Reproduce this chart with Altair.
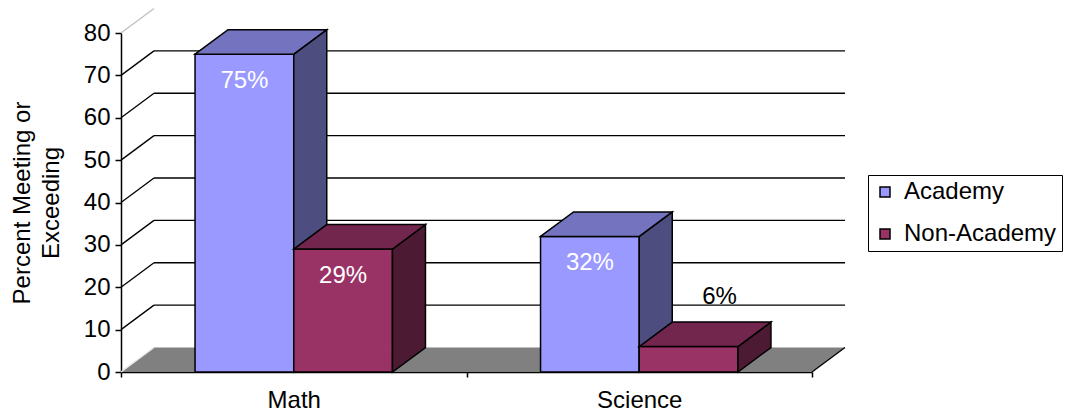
import json
import altair as alt
import pandas as pd

# --- chart values -----------------------------------------------------------
subjects = ["Math", "Science"]
groups = ["Academy", "Non-Academy"]
academy = [75, 32]
non_academy = [29, 6]
y_ticks = [0, 10, 20, 30, 40, 50, 60, 70, 80]

front_colors = ["#9999FF", "#993366"]
top_colors = ["#7373BF", "#73264D"]
side_colors = ["#4D4D80", "#4D1A33"]

FONT = "Liberation Sans"

# --- geometry of the pseudo-3D box ----------------------------------------
W, H = 691, 339           # front plot area in pixels
Y_MAX = 80
PX_X = W / len(subjects)  # pixels per category unit
PX_Y = H / Y_MAX          # pixels per percent
DX = 33 / PX_X            # depth offset, x units
DY = 24.5 / PX_Y          # depth offset, y units
BAR_W = 1 / 3.5           # two bars + 150% gap per category
GAP = 1.5 * BAR_W

series_values = {"Academy": academy, "Non-Academy": non_academy}

x_scale = alt.Scale(domain=[0, len(subjects)], nice=False, zero=False)
y_scale = alt.Scale(domain=[0, Y_MAX], nice=False)

x_axis = alt.Axis(
    values=list(range(len(subjects) + 1)),
    labelExpr=f"datum.value < {len(subjects)} ? {json.dumps(subjects)}[datum.value] : ''",
    labelOffset=PX_X / 2,
    labelFlush=False,
    labelOverlap=False,
    labelPadding=11,
    tickSize=5,
    title=None,
    grid=False,
)
y_axis = alt.Axis(
    values=y_ticks,
    tickSize=6,
    labelPadding=5,
    grid=False,
    title=["Percent Meeting or", "Exceeding"],
    titleAngle=-90,
    titleAlign="center",
    titleBaseline="bottom",
    titleX=-87,
    titleY=H / 2,
    titleLineHeight=29,
)


def X(f):
    return alt.X(f"{f}:Q", scale=x_scale, axis=x_axis)


def Y(f):
    return alt.Y(f"{f}:Q", scale=y_scale, axis=y_axis, stack=None)


# --- floor and walls --------------------------------------------------------
n = len(subjects)
floor = pd.DataFrame({
    "x": [0, DX, n, n + DX],
    "y": [0, DY, DY, DY],
    "y2": [0, 0, 0, DY],
})
floor_layer = alt.Chart(floor).mark_area(color="#808080", interpolate="linear").encode(
    x=X("x"), y=Y("y"), y2="y2"
)

back_lines = pd.DataFrame({
    "x": [DX] * 7, "x2": [n + DX] * 7,
    "y": [v + DY for v in y_ticks[1:-1]],
})
back_layer = alt.Chart(back_lines).mark_rule(color="black", strokeWidth=1.3).encode(
    x=X("x"), x2="x2", y=Y("y")
)

diag = pd.DataFrame({
    "x": [0] * len(y_ticks), "x2": [DX] * len(y_ticks),
    "y": y_ticks, "y2": [v + DY for v in y_ticks],
    "c": ["#e6e6e6"] + ["black"] * 7 + ["#c0c0c0"],
})
diag = pd.concat([diag, pd.DataFrame({"x": [n], "x2": [n + DX], "y": [0], "y2": [DY], "c": ["black"]})])
diag_layer = alt.Chart(diag).mark_rule(strokeWidth=1.3).encode(
    x=X("x"), x2="x2", y=Y("y"), y2="y2", stroke=alt.Stroke("c:N", scale=None)
)

# --- bars: front faces plus side/top faces ----------------------------------
bar_layers = []
label_rows = []
for si, grp in enumerate(groups):
    fronts, faces = [], []
    for ci, subj in enumerate(subjects):
        v = series_values[grp][ci]
        x0 = ci + GAP / 2 + si * BAR_W
        x1 = x0 + BAR_W
        fronts.append({"x0": x0, "x1": x1, "v": v, "group": grp})
        fid = f"{grp}-{subj}"
        # right side face
        faces += [
            {"face": fid + "-s", "x": x1, "y": v, "y2": 0, "fill": side_colors[si]},
            {"face": fid + "-s", "x": x1 + DX, "y": v + DY, "y2": DY, "fill": side_colors[si]},
        ]
        # top face
        faces += [
            {"face": fid + "-t", "x": x0, "y": v, "y2": v, "fill": top_colors[si]},
            {"face": fid + "-t", "x": x0 + DX, "y": v + DY, "y2": v, "fill": top_colors[si]},
            {"face": fid + "-t", "x": x1, "y": v + DY, "y2": v, "fill": top_colors[si]},
            {"face": fid + "-t", "x": x1 + DX, "y": v + DY, "y2": v + DY, "fill": top_colors[si]},
        ]
        label_rows.append({"x": (x0 + x1) / 2, "v": v, "label": f"{v}%", "inside": v >= 15})

    front_layer = alt.Chart(pd.DataFrame(fronts)).mark_rect(
        stroke="black", strokeWidth=1.5
    ).encode(
        x=X("x0"), x2="x1", y=Y("v"), y2=alt.datum(0),
        color=alt.Color(
            "group:N",
            scale=alt.Scale(domain=groups, range=front_colors),
            legend=alt.Legend(
                title=None, orient="none", legendX=747, legendY=142,
                symbolType="square", symbolSize=100, symbolStrokeColor="black",
                symbolStrokeWidth=1.5, symbolOpacity=1,
                labelFontSize=24, labelFont=FONT, labelColor="black", labelOffset=7,
                rowPadding=18, padding=5, strokeColor="black", fillColor="white",
            ),
        ),
    )
    face_layer = alt.Chart(pd.DataFrame(faces)).mark_area(
        stroke="black", strokeWidth=1.5, interpolate="linear", opacity=1
    ).encode(
        x=X("x"), y=Y("y"), y2="y2", detail="face:N",
        fill=alt.Fill("fill:N", scale=None),
    )
    bar_layers += [front_layer, face_layer]

labels = pd.DataFrame(label_rows)
inside_labels = alt.Chart(labels).transform_filter("datum.inside").mark_text(
    color="white", fontSize=24, font=FONT, dy=27
).encode(x=X("x"), y=Y("v"), text="label:N")
outside_labels = alt.Chart(labels).transform_filter("!datum.inside").mark_text(
    color="black", fontSize=24, font=FONT, dx=31, dy=-50
).encode(x=X("x"), y=Y("v"), text="label:N")

chart = alt.layer(
    floor_layer, back_layer, diag_layer, *bar_layers, inside_labels, outside_labels
).properties(
    width=W, height=H,
    autosize=alt.AutoSizeParams(type="none"),
    padding={"left": 121, "top": 33, "right": 1066 - 121 - W, "bottom": 419 - 33 - H},
    background="white",
).configure_view(stroke=None).configure_axis(
    domainColor="black", domainWidth=1.5, tickColor="black", tickWidth=1.5,
    labelColor="black", labelFont=FONT, labelFontSize=24,
    titleColor="black", titleFont=FONT, titleFontSize=24, titleFontWeight="normal",
)

chart.save("out.html", embed_options={"renderer": "svg", "actions": False})
